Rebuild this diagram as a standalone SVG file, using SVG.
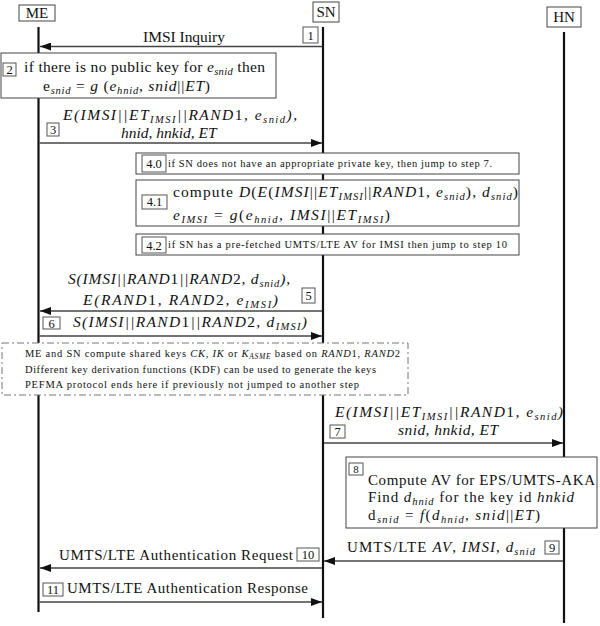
<svg xmlns="http://www.w3.org/2000/svg" width="600" height="626" viewBox="0 0 600 626">
<defs>
<style>
text{font-family:"Liberation Serif","DejaVu Serif",serif;fill:#111}
.r{font-size:15.5px}
.i{font-style:italic}
.s{font-style:italic;font-size:10.5px}
.ss{font-style:italic;font-size:7.5px}
.sm{font-size:10.5px}
.m{font-size:15px}
.lb{font-size:12.5px;text-anchor:middle}
.box{fill:#fff;stroke:#444;stroke-width:1}
.lab{fill:#fff;stroke:#555;stroke-width:1}
.life{stroke:#111;stroke-width:2.2}
.msg{stroke:#444;stroke-width:1.3;fill:none;marker-end:url(#ah)}
</style>
<marker id="ah" markerUnits="userSpaceOnUse" markerWidth="12" markerHeight="8" refX="11" refY="4" orient="auto">
<path d="M0,0 L11,4 L0,8 z" fill="#111"/>
</marker>
</defs>
<rect width="600" height="626" fill="#fff"/>

<g id="lifelines">
<line class="life" x1="38.5" y1="27" x2="38.5" y2="612"/>
<line class="life" x1="323" y1="27" x2="323" y2="618"/>
<line class="life" x1="564" y1="32" x2="564" y2="623"/>
</g>

<g id="ME"><rect class="box" x="19" y="5" width="36" height="16"/><text class="m" x="37" y="18" text-anchor="middle">ME</text></g>
<g id="SN"><rect class="box" x="313" y="2" width="26" height="20"/><text class="m" x="326" y="17" text-anchor="middle">SN</text></g>
<g id="HN"><rect class="box" x="547" y="7" width="34" height="20"/><text class="m" x="564" y="22" text-anchor="middle">HN</text></g>

<g id="connectors">
<line class="msg" x1="322" y1="46.5" x2="40" y2="46.5"/>
<line class="msg" x1="39.5" y1="143" x2="322" y2="143"/>
<line class="msg" x1="322" y1="311" x2="40" y2="311"/>
<line class="msg" x1="39.5" y1="336" x2="322" y2="336"/>
<line class="msg" x1="324" y1="443" x2="563" y2="443"/>
<line class="msg" x1="563" y1="561" x2="324" y2="561"/>
<line class="msg" x1="322" y1="568" x2="40" y2="568"/>
<line class="msg" x1="39.5" y1="602" x2="322" y2="602"/>
</g>

<g id="step1">
<rect class="lab" x="303" y="27" width="15" height="16"/><text class="lb" x="310.5" y="39.5">1</text>
<text class="r" x="143" y="42" textLength="82">IMSI Inquiry</text>
</g>

<g id="step2">
<rect class="box" x="1" y="53" width="275" height="45"/>
<rect class="lab" x="3" y="63" width="13" height="13"/><text class="lb" x="9.5" y="74">2</text>
<text class="r" x="24" y="72" textLength="241">if there is no public key for <tspan class="i">e</tspan><tspan class="s" dy="3">snid</tspan><tspan dy="-3"> then</tspan></text>
<text class="r" x="43" y="91" textLength="167">e<tspan class="s" dy="3">snid</tspan><tspan dy="-3"> = </tspan><tspan class="i">g</tspan> (<tspan class="i">e</tspan><tspan class="s" dy="3">hnid</tspan><tspan dy="-3">, </tspan><tspan class="i">snid</tspan>||<tspan class="i">ET</tspan>)</text>
</g>

<g id="step3">
<rect class="lab" x="47" y="123" width="12" height="13"/><text class="lb" x="53" y="134">3</text>
<text class="r i" x="63" y="120" textLength="234">E(IMSI||ET<tspan class="s" dy="3">IMSI</tspan><tspan dy="-3">||RAND</tspan><tspan font-style="normal">1</tspan>, e<tspan class="s" dy="3">snid</tspan><tspan dy="-3">),</tspan></text>
<text class="r i" x="121" y="138">hnid, hnkid, ET</text>
</g>

<g id="step4_0">
<rect class="box" x="136" y="153" width="383" height="21"/>
<rect class="lab" x="142" y="155" width="24" height="17"/><text class="lb" x="154" y="168">4.0</text>
<text class="sm" x="168" y="167" textLength="324">if SN does not have an appropriate private key, then jump to step 7.</text>
</g>

<g id="step4_1">
<rect class="box" x="136" y="180" width="383" height="46"/>
<rect class="lab" x="142" y="195" width="25" height="14"/><text class="lb" x="154.5" y="206">4.1</text>
<text class="r" x="173" y="197" textLength="345">compute <tspan class="i">D</tspan>(<tspan class="i">E</tspan>(<tspan class="i">IMSI</tspan>||<tspan class="i">ET</tspan><tspan class="s" dy="3">IMSI</tspan><tspan dy="-3">||</tspan><tspan class="i">RAND</tspan>1, <tspan class="i">e</tspan><tspan class="s" dy="3">snid</tspan><tspan dy="-3">), </tspan><tspan class="i">d</tspan><tspan class="s" dy="3">snid</tspan><tspan dy="-3">)</tspan></text>
<text class="r" x="173" y="220" textLength="217"><tspan class="i">e</tspan><tspan class="s" dy="3">IMSI</tspan><tspan dy="-3"> = </tspan><tspan class="i">g</tspan>(<tspan class="i">e</tspan><tspan class="s" dy="3">hnid</tspan><tspan dy="-3">, </tspan><tspan class="i">IMSI</tspan>||<tspan class="i">ET</tspan><tspan class="s" dy="3">IMSI</tspan><tspan dy="-3">)</tspan></text>
</g>

<g id="step4_2">
<rect class="box" x="136" y="234" width="383" height="21"/>
<rect class="lab" x="142" y="237" width="24" height="16"/><text class="lb" x="154" y="249.5">4.2</text>
<text class="sm" x="168" y="248" textLength="339">if SN has a pre-fetched UMTS/LTE AV for IMSI then jump to step 10</text>
</g>

<g id="step5">
<rect class="lab" x="302" y="288" width="13" height="15"/><text class="lb" x="308.5" y="300">5</text>
<text class="r i" x="68" y="284" textLength="222">S(IMSI||RAND<tspan font-style="normal">1</tspan>||RAND<tspan font-style="normal">2</tspan>, d<tspan class="s" dy="3">snid</tspan><tspan dy="-3">),</tspan></text>
<text class="r i" x="83" y="305" textLength="195">E(RAND<tspan font-style="normal">1</tspan>, RAND<tspan font-style="normal">2</tspan>, e<tspan class="s" dy="3">IMSI</tspan><tspan dy="-3">)</tspan></text>
</g>

<g id="step6">
<rect class="lab" x="43" y="317" width="17" height="12"/><text class="lb" x="51.5" y="327.5">6</text>
<text class="r i" x="73" y="327" textLength="234">S(IMSI||RAND<tspan font-style="normal">1</tspan>||RAND<tspan font-style="normal">2</tspan>, d<tspan class="s" dy="3">IMSI</tspan><tspan dy="-3">)</tspan></text>
</g>

<g id="keys_note">
<rect x="2" y="343" width="406" height="52" fill="#fff" stroke="#777" stroke-width="1" stroke-dasharray="7 3 2 3"/>
<text class="sm" x="25" y="357" textLength="375">ME and SN compute shared keys <tspan class="i">CK, IK</tspan> or <tspan class="i">K</tspan><tspan class="ss" dy="2">ASME</tspan><tspan dy="-2"> based on </tspan><tspan class="i">RAND</tspan>1, <tspan class="i">RAND</tspan>2</text>
<text class="sm" x="25" y="373" textLength="351">Different key derivation functions (KDF) can be used to generate the keys</text>
<text class="sm" x="25" y="388" textLength="334">PEFMA protocol ends here if previously not jumped to another step</text>
</g>

<g id="step7">
<text class="r i" x="335" y="417" textLength="228">E(IMSI||ET<tspan class="s" dy="3">IMSI</tspan><tspan dy="-3">||RAND</tspan><tspan font-style="normal">1</tspan>, e<tspan class="s" dy="3">snid</tspan><tspan dy="-3">)</tspan></text>
<rect class="lab" x="330" y="425" width="15" height="13"/><text class="lb" x="337.5" y="435.5">7</text>
<text class="r i" x="398" y="435" textLength="100">snid, hnkid, ET</text>
</g>

<g id="step8">
<rect class="box" x="346" y="457" width="251" height="71"/>
<rect class="lab" x="349" y="463" width="14" height="12"/><text class="lb" x="356" y="473" style="font-size:11px">8</text>
<text class="m" x="368" y="485" textLength="227">Compute AV for EPS/UMTS-AKA</text>
<text class="m" x="368" y="502" textLength="206">Find <tspan class="i">d</tspan><tspan class="s" dy="3">hnid</tspan><tspan dy="-3"> for the key id </tspan><tspan class="i">hnkid</tspan></text>
<text class="m" x="368" y="520" textLength="172">d<tspan class="s" dy="3">snid</tspan><tspan dy="-3"> = </tspan><tspan class="i">f</tspan>(<tspan class="i">d</tspan><tspan class="s" dy="3">hnid</tspan><tspan dy="-3">, </tspan><tspan class="i">snid</tspan>||<tspan class="i">ET</tspan>)</text>
</g>

<g id="step9">
<text class="m" x="347" y="552" textLength="188">UMTS/LTE <tspan class="i">AV</tspan>, <tspan class="i">IMSI</tspan>, <tspan class="i">d</tspan><tspan class="s" dy="3">snid</tspan></text>
<rect class="lab" x="545" y="541" width="14" height="13"/><text class="lb" x="552" y="552">9</text>
</g>

<g id="step10">
<text class="m" x="59" y="560" textLength="234">UMTS/LTE Authentication Request</text>
<rect class="lab" x="297" y="548" width="22" height="13"/><text class="lb" x="308" y="558.5">10</text>
</g>

<g id="step11">
<rect class="lab" x="43" y="583" width="20" height="13"/><text class="lb" x="53" y="594">11</text>
<text class="m" x="67" y="593" textLength="241">UMTS/LTE Authentication Response</text>
</g>
</svg>
